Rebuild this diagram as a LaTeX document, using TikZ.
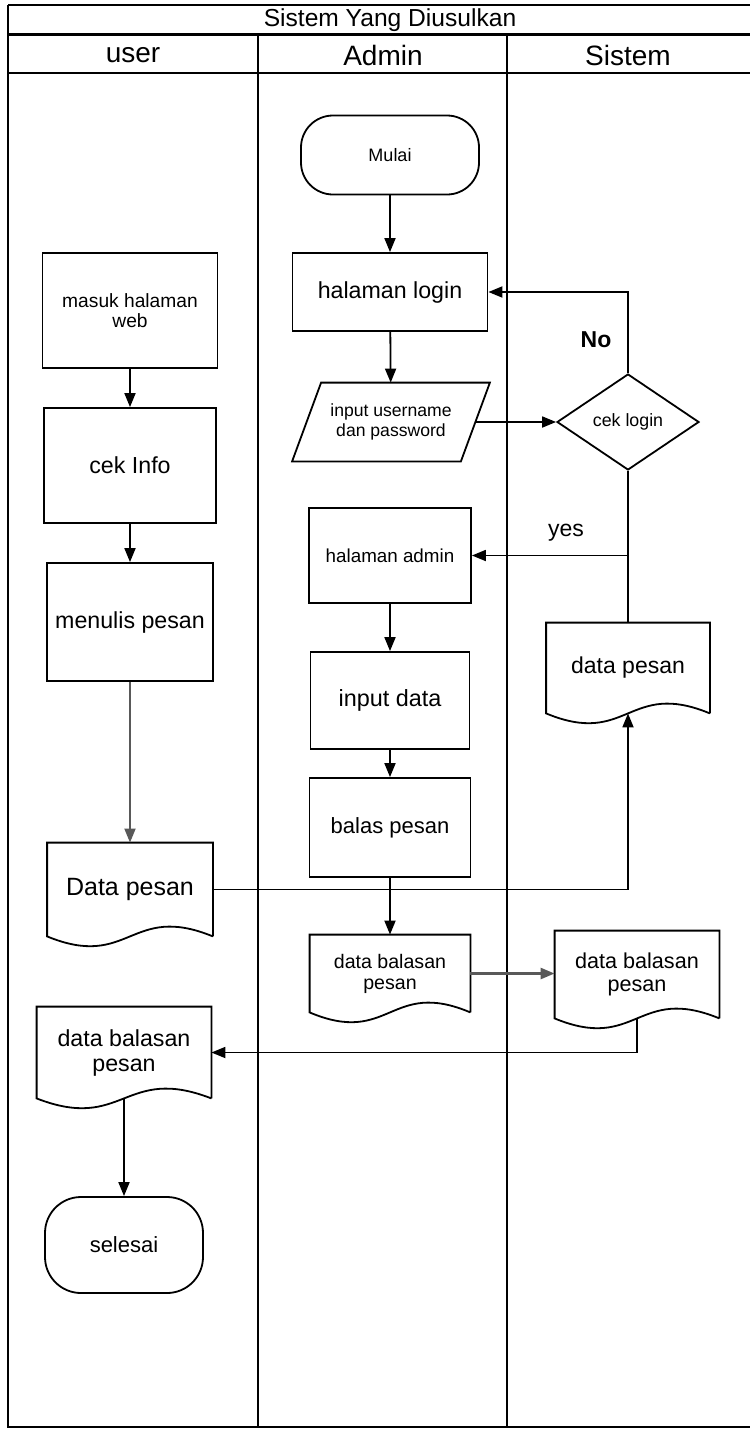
\documentclass[tikz,border=0pt]{standalone}
\usepackage{fontspec}
\setmainfont{Liberation Sans}
\usetikzlibrary{arrows.meta,shapes.geometric,calc}
\newcommand\fsz[2]{\fontsize{#1}{#2}\selectfont}
\newcommand\docshape[1]{%
  \draw[shapeline] (#1.south east) -- (#1.north east) -- (#1.north west) -- (#1.south west)
   .. controls ($(#1.south)+(0,-17pt)$) and ($(#1.south)+(0,17pt)$) .. (#1.south east);}
\begin{document}
\begin{tikzpicture}[x=0.5pt,y=-0.5pt,
  shapeline/.style={line width=0.9pt},
  box/.style={draw, shapeline, rectangle, inner sep=0pt, align=center},
  term/.style={draw, shapeline, rectangle, rounded corners=16pt, inner sep=0pt, align=center},
  doc/.style={rectangle, inner sep=0pt, align=center},
  dec/.style={draw, shapeline, diamond, inner sep=0pt, align=center},
  arr/.style={shapeline, -{Triangle[length=7pt,width=5.5pt]}},
  plain/.style={shapeline},
  frame/.style={line width=1.1pt}
]
\useasboundingbox (0,0) rectangle (750,1430);

% frame
\draw[line width=0.9pt] (8,5) -- (750,5);
\draw[line width=1.5pt] (8,34) -- (750,34);
\draw[frame] (8,73) -- (750,73);
\draw[frame] (8,5) -- (8,1427) -- (750,1427);
\draw[frame] (258,34) -- (258,1427);
\draw[frame] (507,34) -- (507,1427);

% headings
\node[font=\fsz{12.3}{14}] (title) at (390,20) {Sistem Yang Diusulkan};
\node[font=\fsz{14}{16}] (huser) at (133,55) {user};
\node[font=\fsz{14}{16}] (hadmin) at (383,55) {Admin};
\node[font=\fsz{14}{16}] (hsistem) at (628,55) {Sistem};

% user lane
\node[box, minimum width=87.5pt, minimum height=57.5pt, font=\fsz{9.6}{10}] (web) at (130,310.5) {masuk halaman\\web};
\node[box, minimum width=86pt, minimum height=57.5pt, font=\fsz{11.6}{13}] (info) at (130,465.5) {cek Info};
\node[box, minimum width=83pt, minimum height=59pt, font=\fsz{11.6}{13}] (tulis) at (130,622) {menulis pesan};
\node[doc, minimum width=82.5pt, minimum height=46.5pt, font=\fsz{12.5}{14}] (dpu) at (130,889.5) {Data pesan};
\node[doc, minimum width=87pt, minimum height=45.5pt, font=\fsz{11.6}{12.5}] (dbu) at (124,1052.5) {data balasan\\pesan};
\node[term, rounded corners=18pt, minimum width=79pt, minimum height=48pt, font=\fsz{11}{13}] (selesai) at (124,1245) {selesai};

% admin lane
\node[term, minimum width=89pt, minimum height=39.5pt, font=\fsz{9}{11}] (mulai) at (390,155) {Mulai};
\node[box, minimum width=97.5pt, minimum height=39pt, font=\fsz{11.6}{13}] (login) at (390,292) {halaman login};
\node[doc, minimum width=84pt, minimum height=39pt, font=\fsz{8.8}{9.6}] (inp) at (391,422) {input username\\dan password};
\node[box, minimum width=81pt, minimum height=47.5pt, font=\fsz{9.4}{11}] (adm) at (390,555.5) {halaman admin};
\node[box, minimum width=79.5pt, minimum height=48.5pt, font=\fsz{11.7}{13}] (indata) at (390,700.5) {input data};
\node[box, minimum width=80.5pt, minimum height=49.5pt, font=\fsz{11}{13}] (balas) at (390,827.5) {balas pesan};
\node[doc, minimum width=80pt, minimum height=38.5pt, font=\fsz{9.8}{10.5}] (dba) at (390,973.5) {data balasan\\pesan};

% sistem lane
\node[dec, minimum width=71pt, minimum height=48pt, aspect=1.48, font=\fsz{8.9}{10}] (cek) at (628,422) {cek login};
\node[doc, minimum width=81.5pt, minimum height=45pt, font=\fsz{11.5}{13}] (dps) at (628,668) {data pesan};
\node[doc, minimum width=82pt, minimum height=43.5pt, font=\fsz{10.8}{11.5}] (dbs) at (637,974.5) {data balasan\\pesan};

% labels
\node[font=\fsz{11.5}{13}\bfseries] (lno) at (596,340) {No};
\node[font=\fsz{11.5}{13}] (lyes) at (566,533) {yes};

% document and data outlines
\docshape{dpu}
\docshape{dbu}
\docshape{dba}
\docshape{dps}
\docshape{dbs}
\draw[shapeline] ([xshift=7.25pt]inp.north west) -- ([xshift=7.25pt]inp.north east)
  -- ([xshift=-7.25pt]inp.south east) -- ([xshift=-7.25pt]inp.south west) -- cycle;

% connectors
\draw[arr] (web) -- (info);
\draw[arr] (info) -- (tulis);
\draw[arr, draw=black!65] (tulis) -- (dpu);
\draw[arr] (dbu.south) -- (selesai.north);
\draw[arr] (mulai) -- (login);
\draw[arr] (login) -- (inp);
\draw[arr] (inp.east) -- (cek.west);
\draw[arr] (cek.north) |- (login.east);
\draw[plain] (cek.south) -- (dps.north);
\coordinate (yj) at (cek.south |- adm.east);
\draw[arr] (yj) -- (adm.east);
\draw[arr] (adm) -- (indata);
\draw[arr] (indata) -- (balas);
\draw[arr] (balas) -- (dba);
\draw[arr, draw=black!65, line width=1.3pt] (dba.east) -- (dba.east -| dbs.west);
\draw[arr] (dbs.south) |- (dbu.east);
\draw[arr] (dpu.east) -| (dps.south);
\end{tikzpicture}
\end{document}
